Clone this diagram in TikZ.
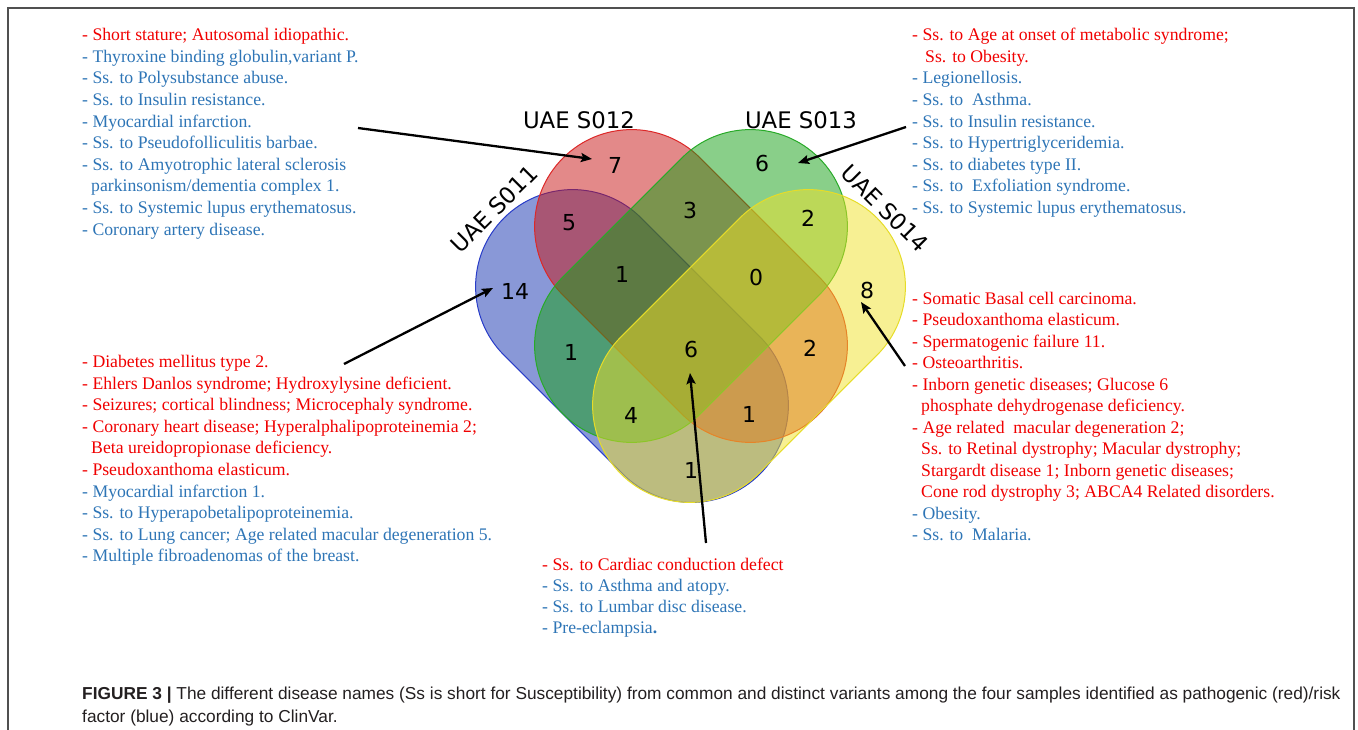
\documentclass[tikz,border=0pt]{standalone}
\usepackage{fontspec}
\setmainfont{Liberation Serif}
\newfontfamily\labfont{DejaVu Sans}
\newfontfamily\capfont{Liberation Sans}
\usetikzlibrary{arrows.meta}
\definecolor{txtred}{RGB}{240,0,0}
\definecolor{txtblue}{RGB}{46,117,182}
\definecolor{bluefill}{RGB}{20,50,175}
\definecolor{blueedge}{RGB}{40,60,200}
\definecolor{redfill}{RGB}{200,20,20}
\definecolor{rededge}{RGB}{220,40,40}
\definecolor{greenfill}{RGB}{20,160,20}
\definecolor{greenedge}{RGB}{40,170,40}
\definecolor{yellowfill}{RGB}{240,225,40}
\definecolor{yellowedge}{RGB}{230,220,40}
\definecolor{framegray}{RGB}{80,80,80}
\definecolor{captext}{RGB}{35,31,32}
\newcommand\vennshape[4]{%
  \path[draw=#4edge, fill=#4fill, fill opacity=0.5, line width=1pt, shift={(#1,#2)}, rotate=#3]
    (-84,-97) -- (84,-97) arc[start angle=-90,end angle=90,radius=97]
    -- (-84,97) arc[start angle=90,end angle=270,radius=97] -- cycle;}
\newcommand\R[1]{\textcolor{txtred}{#1}}
\newcommand\B[1]{\textcolor{txtblue}{#1}}
\newcommand\fs{\rule{0pt}{13pt}}
\begin{document}
\begin{tikzpicture}[x=1pt,y=-1pt,
  num/.style={font=\labfont\fontsize{22}{22}\selectfont, inner sep=0pt},
  setlab/.style={font=\labfont\fontsize{22.8}{24}\selectfont, inner sep=0pt},
  list/.style={font=\fontsize{17.7}{21.6}\selectfont, align=left, anchor=north west, inner sep=0pt},
  arr/.style={line width=2.3pt, -{Stealth[length=11pt,width=9pt,inset=2pt]}},
  capstyle/.style={font=\capfont\fontsize{17.3}{23}\selectfont, text=captext, align=left, anchor=north west, inner sep=0pt}]
\useasboundingbox (0,0) rectangle (1358,730);
\draw[framegray, line width=1.2pt] (8,730) -- (8,8) -- (1354,8) -- (1354,730);

% Venn shapes
\vennshape{632}{346}{-45}{blue}
\vennshape{691}{286}{-45}{red}
\vennshape{691}{286}{45}{green}
\vennshape{749}{346}{45}{yellow}

% set labels
\node[setlab] (s012) at (579,120) {UAE S012};
\node[setlab] (s013) at (801,120) {UAE S013};
\node[setlab, rotate=45] (s011) at (494,209) {UAE S011};
\node[setlab, rotate=-45] (s014) at (885,208) {UAE S014};

% numbers
\node[num] (n7) at (615,165) {7};
\node[num] (n6a) at (762,163) {6};
\node[num] (n5) at (569,223) {5};
\node[num] (n3) at (690,210) {3};
\node[num] (n2a) at (808,218) {2};
\node[num] (n14) at (515,291) {14};
\node[num] (n1a) at (622,274) {1};
\node[num] (n0) at (756,277) {0};
\node[num] (n8) at (867,290) {8};
\node[num] (n1b) at (571,352) {1};
\node[num] (n6b) at (691,349) {6};
\node[num] (n2b) at (810,348) {2};
\node[num] (n4) at (631,415) {4};
\node[num] (n1c) at (749,414) {1};
\node[num] (n1d) at (691,470) {1};

% lists
\node[list] (ltl) at (82,27.5) {%
\R{\fs- Short stature; Autosomal idiopathic.}\\
\B{- Thyroxine binding globulin,variant P.}\\
\B{- Ss. to Polysubstance abuse.}\\
\B{- Ss. to Insulin resistance.}\\
\B{- Myocardial infarction.}\\
\B{- Ss. to Pseudofolliculitis barbae.}\\
\B{- Ss. to Amyotrophic lateral sclerosis}\\
\B{\hspace*{9pt}parkinsonism/dementia complex 1.}\\
\B{- Ss. to Systemic lupus erythematosus.}\\
\B{- Coronary artery disease.}};

\node[list] (ltr) at (912,27.5) {%
\R{\fs- Ss. to Age at onset of metabolic syndrome;}\\
\R{\hspace*{13pt}Ss. to Obesity.}\\
\B{- Legionellosis.}\\
\B{- Ss. to\ \ Asthma.}\\
\B{- Ss. to Insulin resistance.}\\
\B{- Ss. to Hypertriglyceridemia.}\\
\B{- Ss. to diabetes type II.}\\
\B{- Ss. to\ \ Exfoliation syndrome.}\\
\B{- Ss. to Systemic lupus erythematosus.}};

\node[list] (lbl) at (82,354.3) {%
\R{\fs- Diabetes mellitus type 2.}\\
\R{- Ehlers Danlos syndrome; Hydroxylysine deficient.}\\
\R{- Seizures; cortical blindness; Microcephaly syndrome.}\\
\R{- Coronary heart disease; Hyperalphalipoproteinemia 2;}\\
\R{\hspace*{9pt}Beta ureidopropionase deficiency.}\\
\R{- Pseudoxanthoma elasticum.}\\
\B{- Myocardial infarction 1.}\\
\B{- Ss. to Hyperapobetalipoproteinemia.}\\
\B{- Ss. to Lung cancer; Age related macular degeneration 5.}\\
\B{- Multiple fibroadenomas of the breast.}};

\node[list, font=\fontsize{17.7}{21.5}\selectfont] (lr) at (912,291) {%
\R{\fs- Somatic Basal cell carcinoma.}\\
\R{- Pseudoxanthoma elasticum.}\\
\R{- Spermatogenic failure 11.}\\
\R{- Osteoarthritis.}\\
\R{- Inborn genetic diseases; Glucose 6}\\
\R{\hspace*{9pt}phosphate dehydrogenase deficiency.}\\
\R{- Age related\ \ macular degeneration 2;}\\
\R{\hspace*{9pt}Ss. to Retinal dystrophy; Macular dystrophy;}\\
\R{\hspace*{9pt}Stargardt disease 1; Inborn genetic diseases;}\\
\R{\hspace*{9pt}Cone rod dystrophy 3; ABCA4 Related disorders.}\\
\B{- Obesity.}\\
\B{- Ss. to\ \ Malaria.}};

\node[list, font=\fontsize{17.7}{21}\selectfont] (lb) at (542,557) {%
\R{\fs- Ss. to Cardiac conduction defect}\\
\B{- Ss. to Asthma and atopy.}\\
\B{- Ss. to Lumbar disc disease.}\\
\B{- Pre-eclampsia\textbf{.}}};

% arrows
\coordinate (a1) at (358,128); \coordinate (t1) at (592,159);
\coordinate (a2) at (906,127); \coordinate (t2) at (798,163);
\coordinate (a3) at (344,364); \coordinate (t3) at (493,288);
\coordinate (a4) at (706,543); \coordinate (t4) at (690,373);
\coordinate (a5) at (905,366); \coordinate (t5) at (861,302);
\draw[arr] (a1) -- (t1);
\draw[arr] (a2) -- (t2);
\draw[arr] (a3) -- (t3);
\draw[arr] (a4) -- (t4);
\draw[arr] (a5) -- (t5);

% caption
\node[capstyle] (cap) at (82,686) {\rule{0pt}{13pt}\textbf{FIGURE 3 |} The different disease names (Ss is short for Susceptibility) from common and distinct variants among the four samples identified as pathogenic (red)/risk\\
factor (blue) according to ClinVar.};
\end{tikzpicture}
\end{document}
